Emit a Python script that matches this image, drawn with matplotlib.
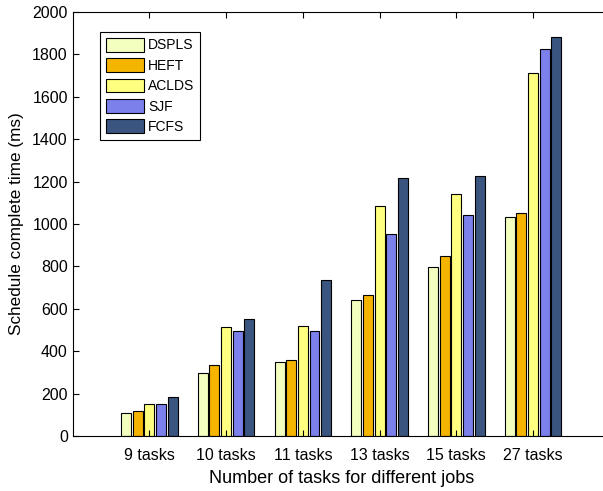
import matplotlib
matplotlib.use("Agg")
import matplotlib.pyplot as plt
import numpy as np

plt.rcParams['font.family'] = ['Liberation Sans', 'DejaVu Sans']

# data
categories = ['9 tasks', '10 tasks', '11 tasks', '13 tasks', '15 tasks', '27 tasks']
dspls = [107, 296, 347, 640, 798, 1034]
heft = [116, 333, 358, 665, 849, 1053]
aclds = [152, 514, 519, 1087, 1142, 1711]
sjf = [149, 497, 496, 952, 1041, 1826]
fcfs = [182, 554, 737, 1219, 1225, 1881]

series = [('DSPLS', dspls, '#F2FFBE'),
          ('HEFT', heft, '#F5B400'),
          ('ACLDS', aclds, '#FFFF80'),
          ('SJF', sjf, '#7B80EB'),
          ('FCFS', fcfs, '#3A557F')]

fig = plt.figure(figsize=(6.03, 4.91), dpi=100)
# the right side of the box runs past the figure edge in the original
ax = fig.add_axes([72.7 / 603, 55 / 491, 537 / 603, 424 / 491])

x = np.arange(1, len(categories) + 1)
pitch = 0.152
width = 0.13
for i, (name, vals, col) in enumerate(series):
    ax.bar(x + (i - 2) * pitch, vals, width, color=col, edgecolor='black',
           linewidth=0.8, label=name)

ax.set_xlim(0, 7)
ax.set_ylim(0, 2000)
ax.set_yticks(np.arange(0, 2001, 200))
ax.set_xticks(x)
ax.set_xticklabels(categories)
ax.tick_params(direction='in', top=True, right=True, labelsize=11.5, length=4)
ax.tick_params(axis='x', pad=9)
ax.set_xlabel('Number of tasks for different jobs', fontsize=13, labelpad=5)
ax.set_ylabel('Schedule complete time (ms)', fontsize=12.3, labelpad=6)

leg = ax.legend(loc='upper left', bbox_to_anchor=(100 / 603, 1 - 31.5 / 491),
                bbox_transform=fig.transFigure, borderaxespad=0, fancybox=False,
                edgecolor='black', fontsize=10, handlelength=2.75, handleheight=1.15,
                labelspacing=0.42, handletextpad=0.25, borderpad=0.45, framealpha=1)
leg.get_frame().set_linewidth(0.8)

fig.savefig('out.png', dpi=100)
